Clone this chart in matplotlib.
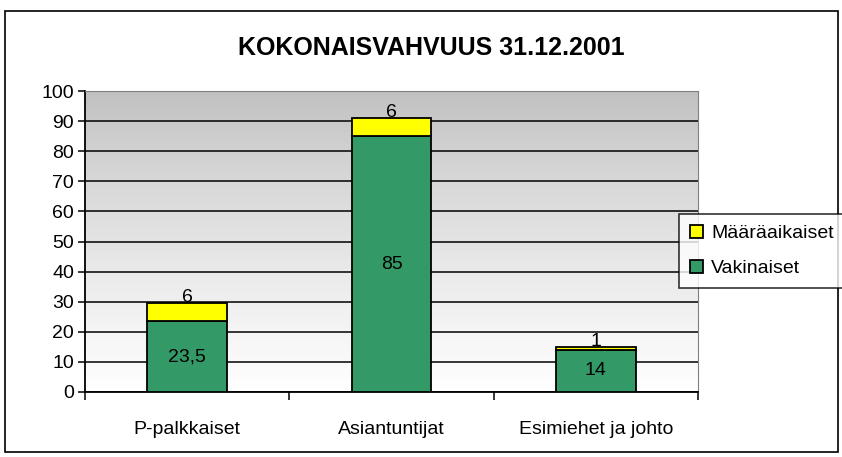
import numpy as np
import matplotlib.pyplot as plt
from matplotlib.patches import Rectangle

plt.rcParams['font.family'] = ['Liberation Sans', 'DejaVu Sans']

# Datos
categorias = ['P-palkkaiset', 'Asiantuntijat', 'Esimiehet ja johto']
vakinaiset = [23.5, 85, 14]
maaraaikaiset = [6, 6, 1]
etiquetas_vak = ['23,5', '85', '14']
etiquetas_maar = ['6', '6', '1']

fig = plt.figure(figsize=(8.42, 4.57), dpi=100)
fig.patches.append(Rectangle((5/842, 5/457), 833/842, 441/457, transform=fig.transFigure,
                             fill=False, edgecolor='black', linewidth=1.2))

ax = fig.add_axes([85/842, 1 - 392/457, 613/842, 301/457])

# Fondo degradado gris (arriba) -> blanco (abajo)
t = np.linspace(0, 1, 256) ** 0.8
gris = 0.75 + 0.25 * t
grad = np.dstack([gris, gris, gris]).reshape(-1, 1, 3)
ax.imshow(grad, extent=[-0.5, 2.5, 0, 100], aspect='auto', zorder=0,
          interpolation='bicubic')

x = np.arange(len(categorias))
ancho = 0.39
ax.bar(x, vakinaiset, ancho, color='#339966', edgecolor='black', linewidth=1.3,
       label='Vakinaiset', zorder=3)
ax.bar(x, maaraaikaiset, ancho, bottom=vakinaiset, color='#ffff00', edgecolor='black',
       linewidth=1.3, label='Määräaikaiset', zorder=3)

for i in range(len(categorias)):
    ax.text(x[i], vakinaiset[i] / 2, etiquetas_vak[i], ha='center', va='center',
            fontsize=14, zorder=4)
    ax.annotate(etiquetas_maar[i], (x[i], vakinaiset[i] + maaraaikaiset[i]),
                xytext=(0, -2), textcoords='offset points', ha='center', va='bottom',
                fontsize=14, zorder=4)

ax.set_xlim(-0.5, 2.5)
ax.set_ylim(0, 100)
ax.set_yticks(range(0, 101, 10))
ax.yaxis.grid(True, color='black', linewidth=1.1, zorder=1)
ax.set_axisbelow(True)
ax.tick_params(axis='y', labelsize=14, length=5, width=1.1, direction='out', pad=3)
ax.set_xticks(x)
ax.set_xticklabels(categorias, fontsize=14)
ax.tick_params(axis='x', length=0, pad=21)
ax.set_xticks([-0.5, 0.5, 1.5, 2.5], minor=True)
ax.tick_params(axis='x', which='minor', length=6, width=1.1, direction='out')

ax.spines['left'].set_linewidth(1.3)
ax.spines['bottom'].set_linewidth(1.3)
ax.spines['top'].set_color('#808080')
ax.spines['right'].set_color('#808080')

fig.text(431/842, 1 - 48/457, 'KOKONAISVAHVUUS 31.12.2001', ha='center', va='center',
         fontsize=18, fontweight='bold')

h, l = ax.get_legend_handles_labels()
leg = fig.legend(h[::-1], l[::-1], loc='center left', bbox_to_anchor=(679/842, 1 - 251/457),
                 fontsize=14, frameon=True, fancybox=False, edgecolor='black',
                 handlelength=0.7, handleheight=0.7, handletextpad=0.4,
                 borderpad=0.55, labelspacing=0.9, borderaxespad=0)
leg.get_frame().set_linewidth(1.2)

plt.savefig('out.png', dpi=100)
